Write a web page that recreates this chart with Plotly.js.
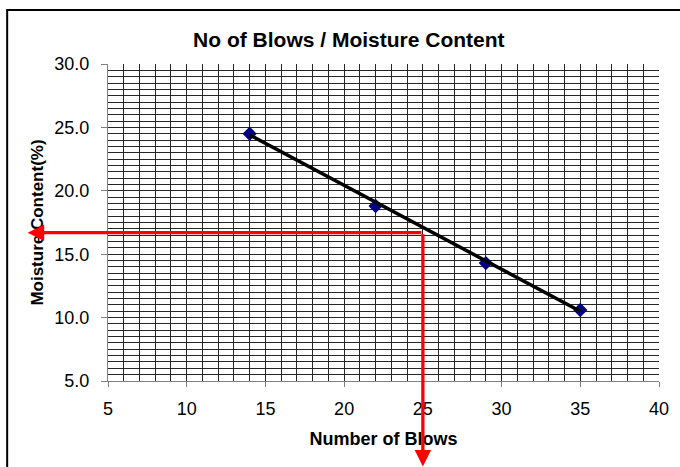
<!DOCTYPE html>
<html>
<head>
<meta charset="utf-8">
<script src="https://cdn.plot.ly/plotly-3.0.1.min.js"></script>
<style>
  html, body { margin: 0; padding: 0; background: #fff; }
  #chart { width: 680px; height: 467px; }
</style>
</head>
<body>
<div id="chart"></div>
<script>
// Measured points
const blows = [14, 22, 29, 35];
const moisture = [24.5, 18.8, 14.3, 10.6];

// Trend line endpoints
const trendBlows = [14, 35];
const trendMoisture = [24.4, 10.5];

// Reading at 25 blows (red arrows)
const readBlows = 25;
const readMoisture = 16.7;
// where the red arrow heads end (beyond the axes)
const arrowTipBlows = -0.1;
const arrowTipMoisture = -1.75;

const xTicks = [5, 10, 15, 20, 25, 30, 35, 40];
const yTicks = [5, 10, 15, 20, 25, 30];

const font = 'Liberation Sans, Arial, sans-serif';

const traces = [
  {
    x: blows, y: moisture, type: 'scatter', mode: 'markers',
    marker: { symbol: 'diamond', size: 11, color: '#000080', line: { width: 0 } },
    hoverinfo: 'skip', showlegend: false
  },
  {
    x: trendBlows, y: trendMoisture, type: 'scatter', mode: 'lines',
    line: { color: '#000000', width: 3.5 },
    hoverinfo: 'skip', showlegend: false
  }
];

const layout = {
  width: 680, height: 467,
  margin: { l: 108, r: 21, t: 64, b: 86, pad: 0 },
  paper_bgcolor: '#ffffff', plot_bgcolor: '#ffffff',
  showlegend: false,
  font: { family: font, color: '#000' },
  title: {
    text: '<b>No of Blows / Moisture Content</b>',
    font: { family: font, size: 21, color: '#000' },
    x: 0.513, xanchor: 'center', xref: 'container',
    y: 0.915, yanchor: 'middle', yref: 'container'
  },
  xaxis: {
    range: [5, 40], tickvals: xTicks, ticktext: xTicks.map(String),
    showline: true, linecolor: '#808080', linewidth: 1,
    ticks: 'outside', ticklen: 5, tickcolor: '#808080', tickwidth: 1,
    tickfont: { family: font, size: 18, color: '#000' },
    ticklabelstandoff: 6,
    showgrid: true, gridcolor: '#262626', gridwidth: 1,
    minor: { dtick: 1, showgrid: true, gridcolor: '#262626', gridwidth: 1, ticks: '' },
    zeroline: false, fixedrange: true,
    title: { text: '<b>Number of Blows</b>', font: { family: font, size: 18, color: '#000' }, standoff: 14 }
  },
  yaxis: {
    range: [5, 30], tickvals: yTicks, ticktext: yTicks.map(v => v.toFixed(1)),
    showline: true, linecolor: '#808080', linewidth: 1,
    ticks: 'outside', ticklen: 6, tickcolor: '#808080', tickwidth: 1,
    tickfont: { family: font, size: 18, color: '#000' },
    ticklabelstandoff: 8,
    showgrid: true, gridcolor: '#262626', gridwidth: 1,
    minor: { dtick: 0.5, showgrid: true, gridcolor: '#262626', gridwidth: 1, ticks: '' },
    zeroline: false, fixedrange: true,
    title: { text: '<b>Moisture Content(%)</b>', font: { family: font, size: 17, color: '#000' }, standoff: 6 }
  },
  shapes: [
    {
      type: 'rect', xref: 'paper', yref: 'paper',
      x0: -0.183, x1: 2, y0: -2, y1: 1.170,
      line: { color: '#000', width: 2 }, fillcolor: 'rgba(0,0,0,0)', layer: 'above'
    }
  ],
  annotations: [
    {
      xref: 'x', yref: 'y', axref: 'x', ayref: 'y',
      x: arrowTipBlows, y: readMoisture, ax: readBlows, ay: readMoisture,
      text: '', showarrow: true, arrowhead: 2, arrowsize: 1, arrowwidth: 3.3,
      arrowcolor: '#ff0000', standoff: 0, startstandoff: 0
    },
    {
      xref: 'x', yref: 'y', axref: 'x', ayref: 'y',
      x: readBlows, y: arrowTipMoisture, ax: readBlows, ay: readMoisture,
      text: '', showarrow: true, arrowhead: 2, arrowsize: 1, arrowwidth: 3.3,
      arrowcolor: '#ff0000', standoff: 0, startstandoff: 0
    }
  ]
};

Plotly.newPlot('chart', traces, layout, { staticPlot: true, displayModeBar: false });
</script>
</body>
</html>
